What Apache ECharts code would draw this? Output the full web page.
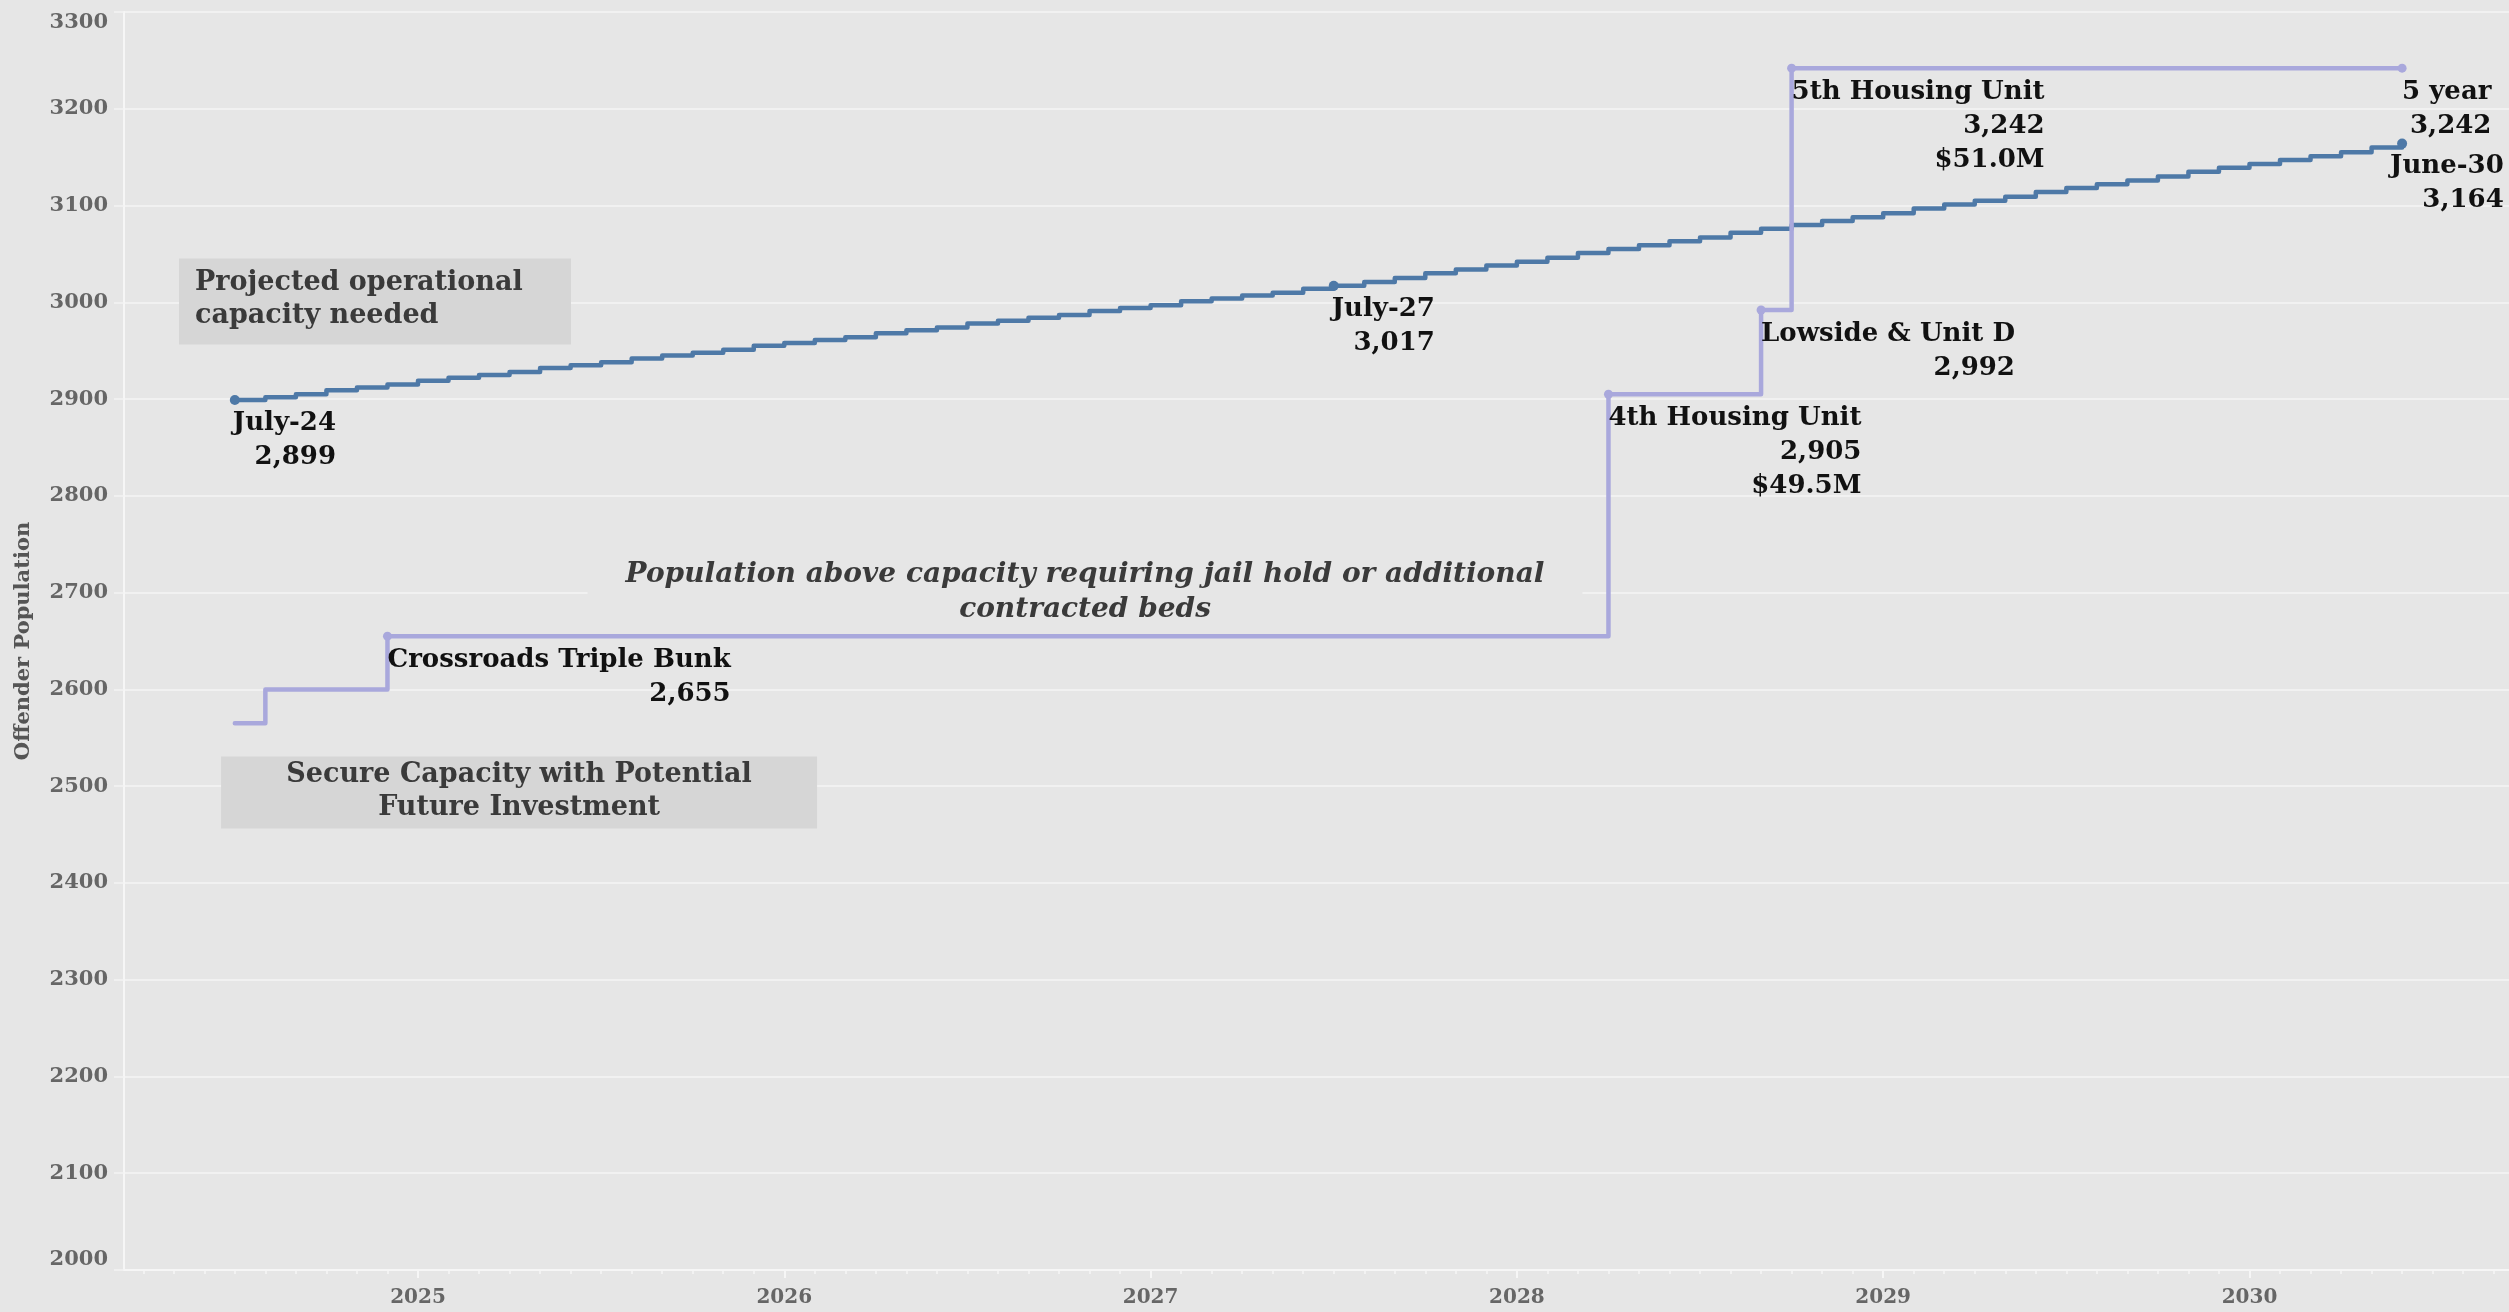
<!DOCTYPE html>
<html><head><meta charset="utf-8">
<script src="https://cdn.jsdelivr.net/npm/echarts@6/dist/echarts.min.js"></script>
<style>html,body{margin:0;padding:0;background:#e6e6e6}#c{width:2509px;height:1312px}</style>
</head><body><div id="c"></div><script>
// ---------- DATA ----------
// Projected operational capacity needed (monthly, starting July 2024)
const projStart = '2024-07';
const projValues = [
  2899,2902,2905,2909,2912,2915,
  2919,2922,2925,2928,2932,2935,2938,2942,2945,2948,2951,2955,
  2958,2961,2964,2968,2971,2974,2978,2981,2984,2987,2991,2994,
  2997,3001,3004,3007,3010,3014,3017,3021,3025,3030,3034,3038,
  3042,3046,3051,3055,3059,3063,3067,3072,3076,3080,3084,3088,
  3092,3097,3101,3105,3109,3114,3118,3122,3126,3130,3135,3139,
  3143,3147,3151,3155,3160,3164
];
const projLabelMonths = ['2024-07','2027-07','2030-06'];
const projLabelNames  = ['July-24','July-27','June-30'];

// Secure capacity with potential future investment
const capMonths = ['2024-07','2024-08','2024-12','2028-04','2028-09','2028-10','2030-06'];
const capValues = [2565,2600,2655,2905,2992,3242,3242];
const capNames  = ['','','Crossroads Triple Bunk','4th Housing Unit','Lowside & Unit D','5th Housing Unit','5 year'];
const capCosts  = ['','','','$49.5M','','$51.0M',''];

const xTickYears = [2025,2026,2027,2028,2029,2030];
const yMin = 2000, yMax = 3300, yStep = 100;

// ---------- HELPERS ----------
function ym2x(s){ const p = s.split('-').map(Number); return p[0] + (p[1]-1)/12; }
function fmt(v){ return v.toLocaleString('en-US'); }
const FONT = 'DejaVu Serif';
const projMonths = projValues.map((v,i)=>{
  const p = projStart.split('-').map(Number);
  const t = p[0]*12 + (p[1]-1) + i;
  return Math.floor(t/12) + '-' + String(t%12+1).padStart(2,'0');
});
const xMin = 2024.1974, xMax = 2030.7085;
const monthTicks = [];
for (let t = Math.ceil(xMin*12); t <= Math.floor(xMax*12); t++) monthTicks.push(t/12);

const richR = { r: { align:'right', fontFamily:FONT, fontWeight:'bold', fontSize:26, lineHeight:34, color:'#111' } };
function block(lines){ return lines.filter(s=>s).map(s=>'{r|'+s+'}').join('\n'); }

const projData = projValues.map((v,i)=>{
  const k = projLabelMonths.indexOf(projMonths[i]);
  if (k < 0) return { value:[ym2x(projMonths[i]), v], symbol:'none' };
  const last = k === projLabelMonths.length-1;
  return { value:[ym2x(projMonths[i]), v], symbol:'circle', symbolSize:10,
    label:{ show:true, position:'inside', align:'left', verticalAlign:'top', offset:[last?-12:-2, 6],
      formatter: block([projLabelNames[k], fmt(v)]), rich: richR } };
});
const capData = capValues.map((v,i)=>{
  if (!capNames[i]) return { value:[ym2x(capMonths[i]), v], symbol:'none' };
  return { value:[ym2x(capMonths[i]), v], symbol:'circle', symbolSize:9,
    label:{ show:true, position:'inside', align:'left', verticalAlign:'top', offset:[0, 7],
      formatter: block([capNames[i], fmt(v), capCosts[i]]), rich: richR } };
});

const boxText = { fontFamily:FONT, fontWeight:'bold', fontSize:27, lineHeight:33, color:'#3a3a3a' };

const chart = echarts.init(document.getElementById('c'), null, {renderer:'canvas'});
chart.setOption({
  animation:false,
  backgroundColor:'#e6e6e6',
  grid:{ left:124, right:0, top:12, bottom:42, containLabel:false },
  xAxis:[{
    type:'value', min:xMin, max:xMax, position:'bottom',
    axisLine:{ show:true, lineStyle:{ color:'#f6f6f6', width:2 } },
    axisTick:{ show:true, customValues:xTickYears, length:8, lineStyle:{ color:'#f6f6f6', width:2 } },
    axisLabel:{ show:true, customValues:xTickYears, margin:18, fontFamily:FONT, fontWeight:'bold', fontSize:20, color:'#666',
      formatter:v=>String(Math.round(v)) },
    splitLine:{ show:false }
  },{
    type:'value', min:xMin, max:xMax, position:'bottom', gridIndex:0,
    axisLine:{ show:false },
    axisTick:{ show:true, customValues:monthTicks, length:4, lineStyle:{ color:'#f6f6f6', width:1.5 } },
    axisLabel:{ show:false }, splitLine:{ show:false }
  }],
  yAxis:{
    type:'value', min:yMin, max:yMax, interval:yStep,
    name:'Offender Population', nameLocation:'middle', nameGap:90,
    nameTextStyle:{ fontFamily:FONT, fontWeight:'bold', fontSize:21, color:'#555' },
    axisLine:{ show:true, lineStyle:{ color:'#f6f6f6', width:2 } },
    axisTick:{ show:true, length:10, lineStyle:{ color:'#f4f4f4', width:1.5 } },
    axisLabel:{ margin:16, fontFamily:FONT, fontWeight:'bold', fontSize:21, color:'#666',
      formatter:v=>String(v),
      verticalAlignMinLabel:'bottom', verticalAlignMaxLabel:'top' },
    splitLine:{ show:true, lineStyle:{ color:'#f4f4f4', width:1.5 } }
  },
  series:[{
    name:'Projected operational capacity needed',
    type:'line', step:'end', data:projData, showSymbol:true, showAllSymbol:true,
    itemStyle:{ color:'#4e79a7' },
    lineStyle:{ color:'#4e79a7', width:4.5, cap:'round', join:'round' },
    z:2,
    markPoint:{
      symbol:'rect', symbolSize:1, itemStyle:{ color:'rgba(0,0,0,0)' }, silent:true,
      data:[
        { coord:[2024.3475, 3000.8], label:{ show:true, position:'inside', align:'left', verticalAlign:'middle',
            backgroundColor:'#d6d6d6', padding:[8,20,12,16], width:356,
            formatter:'{l|Projected operational}\n{l|capacity needed}',
            rich:{ l:Object.assign({align:'left'}, boxText) } } },
        { coord:[2025.276, 2493.4], label:{ show:true, position:'inside', align:'center', verticalAlign:'middle',
            backgroundColor:'#d6d6d6', padding:[2,0,4,0], width:596,
            formatter:'{c|Secure Capacity with Potential}\n{c|Future Investment}',
            rich:{ c:Object.assign({align:'center'}, boxText) } } },
        { coord:[2026.821, 2700], label:{ show:true, position:'inside', align:'center', verticalAlign:'middle',
            backgroundColor:'#e6e6e6', padding:[2,38,2,38],
            formatter:'{i|Population above capacity requiring jail hold or additional}\n{i|contracted beds}',
            rich:{ i:{ align:'center', fontFamily:FONT, fontStyle:'italic', fontWeight:'bold', fontSize:28, lineHeight:35, color:'#3a3a3a' } } } }
      ]
    }
  },{
    name:'Secure Capacity with Potential Future Investment',
    type:'line', step:'end', data:capData, showSymbol:true, showAllSymbol:true,
    itemStyle:{ color:'#a9a8dc' },
    lineStyle:{ color:'#a9a8dc', width:4.5, cap:'round', join:'round' },
    z:3
  }]
});
</script></body></html>
